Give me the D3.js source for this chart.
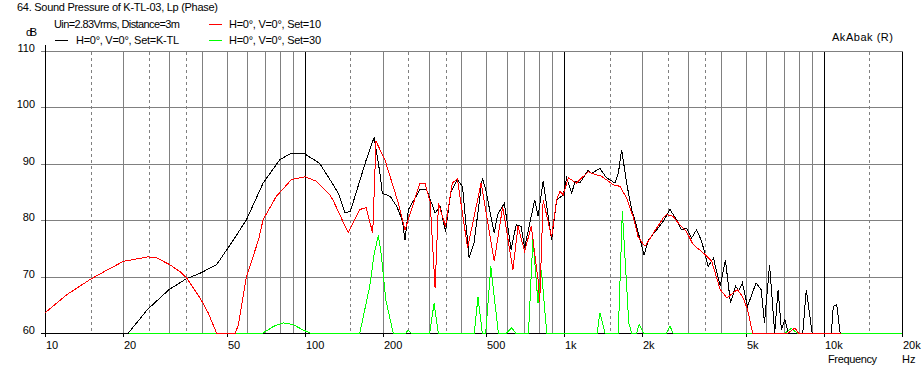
<!DOCTYPE html>
<html>
<head>
<meta charset="utf-8">
<title>Sound Pressure K-TL-03</title>
<style>
  body { margin:0; background:#fff; }
  svg { display:block; }
  text { font-family:"Liberation Sans", Arial, sans-serif; font-size:11px; fill:#000; }
</style>
<script src="https://d3js.org/d3.v7.min.js"></script>
</head>
<body>
<script>
// frequency (Hz) / level (dB)
const ktlFreq = [10, 20.9, 24.8, 30, 34.9, 39.5, 45.7, 53.1, 59.6, 69.1, 80, 88.8, 98.7, 114, 125, 134.6, 142.9, 149.9, 172.5, 185, 195.3, 198.8, 213.5, 226.5, 237.5, 243.3, 250.7, 277.8, 294.9, 317.8, 332.6, 348.5, 364.7, 387.3, 405.3, 429.7, 448.9, 483.4, 498.2, 536.8, 553.3, 587.6, 624.1, 652.6, 682.3, 703, 769.2, 792.6, 829.3, 893.5, 934, 991, 1021, 1068, 1100, 1149, 1236, 1274, 1371, 1455, 1568, 1615, 1664, 1738, 1818, 1901, 2030, 2109, 2270, 2406, 2553, 2709, 2826, 2955, 3091, 3233, 3381, 3588, 3756, 3989, 4177, 4370, 4572, 4700, 4858, 5082, 5483, 5735, 5908, 6182, 6467, 6667, 6868, 7078, 7295, 7750, 7980, 8300, 8560, 9020, 10700, 10880, 11220, 11560, 11700];
const ktlDb   = [60, 60, 64.2, 67.7, 69.6, 70.6, 72.1, 76.5, 80.1, 86.6, 90.7, 91.9, 91.9, 90.1, 87.2, 84.8, 81.3, 81.6, 90.7, 94.7, 88, 84.8, 84.2, 82.4, 80, 76.5, 81.9, 85.4, 85.4, 81.3, 82.4, 78, 84.8, 87.2, 86, 73.3, 76, 87.5, 85.4, 77.7, 81, 83, 74.8, 79.2, 78.9, 75.1, 83.6, 80.7, 86.9, 76.5, 83.6, 84.5, 87.5, 84.8, 86.9, 86.6, 88.9, 88.3, 89.2, 87.5, 86.6, 88.3, 92.5, 86.6, 81.9, 78.9, 73.8, 76.5, 78.3, 79.8, 81.9, 80.1, 78.3, 78.6, 76.8, 78.3, 76.3, 71.8, 73.3, 68.3, 73, 65.3, 68.3, 67.5, 68.9, 64.7, 68.9, 67.7, 61.8, 72.1, 60, 67.7, 60.5, 62.4, 60, 60.9, 60, 60, 67.7, 60, 60, 64.7, 65, 60, 60];

const set10Freq = [10, 12.1, 14.9, 17.2, 20, 24.9, 26.9, 30.2, 33, 35, 39.5, 42.4, 45.7, 54, 55.5, 59.6, 66.3, 69.1, 77.6, 88.8, 100.2, 111, 125, 128.9, 146.9, 162.7, 172.5, 182.7, 188.1, 203.6, 228.4, 243.3, 277.8, 290.6, 304, 317.8, 327.4, 348.5, 370.1, 387.3, 424, 478, 536.8, 579, 633.9, 663, 703, 746, 792, 804, 829, 893.5, 934, 963, 991, 1036, 1115, 1236, 1274, 1392, 1541, 1640, 1738, 1840, 1924, 2017, 2048, 2205, 2406, 2480, 2625, 2750, 2955, 3135, 3430, 3700, 3989, 4237, 4640, 4858, 5082, 5318, 7295, 7750, 7980, 11700];
const set10Db   = [63.6, 66.8, 69.5, 71.1, 72.7, 73.5, 73.3, 72.1, 70.9, 69.8, 66.2, 63.6, 60, 60, 61.5, 70, 76.5, 80.1, 84.2, 87.2, 87.7, 86.9, 84.5, 83.4, 77.8, 81.9, 82.2, 77.7, 94, 90.7, 83.3, 78.3, 86.6, 86.5, 83.3, 68, 83, 78.9, 86.6, 87.3, 75.1, 86.6, 72.7, 82.4, 71.2, 78.9, 74.5, 78.9, 69.5, 65.5, 83.6, 77, 83.6, 85.1, 84.5, 87.5, 86.6, 88.6, 88.3, 87.8, 86.3, 86, 83.9, 80.7, 77.1, 75.7, 75.4, 77.7, 80.4, 81, 80.7, 79.5, 78, 75.7, 74.2, 72.7, 67.7, 66.2, 67.7, 66.5, 64.2, 60, 60, 60.9, 60, 60];

const set30Freq = [20, 69, 76, 82.7, 90, 97, 104.5, 163, 170, 178, 185, 192, 197, 205, 219, 245, 250, 256, 303, 315, 327, 450, 465, 483, 498, 521, 557, 600, 627, 650, 728, 757, 792, 816, 856, 1340, 1371, 1435, 1615, 1674, 1772, 1818, 1901, 1943, 2017, 2480, 2553, 2625, 7100, 7500, 7900, 20000];
const set30Db   = [60, 60, 61.2, 61.8, 61.5, 60.7, 60, 60, 64, 68.3, 74, 77.3, 74, 66, 60, 60, 60.5, 60, 60, 65.3, 60, 60, 66.4, 60, 60, 71.8, 60, 60, 60.9, 60, 60, 76.8, 65.3, 71.2, 60, 60, 63.6, 60, 60, 81.6, 61.8, 60, 60, 61.5, 60, 60, 61.2, 60, 60, 60.8, 60, 60];

const dbTicks = [60, 70, 80, 90, 100, 110];
const freqLabels = [10, 20, 50, 100, 200, 500, 1000, 2000, 5000, 10000, 20000];
const freqLabelText = ['10', '20', '50', '100', '200', '500', '1k', '2k', '5k', '10k', '20k'];

const W = 924, H = 371;
const svg = d3.select('body').append('svg').attr('width', W).attr('height', H);

const x = d3.scaleLog().domain([10, 20000]).range([45.3, 901.9]);
const y = d3.scaleLinear().domain([60, 110]).range([333, 51]);
const px = v => Math.round(x(v)) + 0.5;
const py = v => Math.round(y(v)) + 0.5;

// vertical grid: whole multiples solid, half steps dashed
const gridSolid = [], gridDash = [], gridBlack = [100, 1000, 10000, 20000];
[10, 100, 1000, 10000].forEach(d => {
  [2, 3, 4, 5, 6, 7, 8, 9].forEach(m => { if (d * m <= 20000 && !gridBlack.includes(d * m)) gridSolid.push(d * m); });
  [1.5, 2.5, 3.5].forEach(m => { if (d * m <= 20000) gridDash.push(d * m); });
});

const grid = svg.append('g').attr('shape-rendering', 'crispEdges');
grid.selectAll('.hg').data(dbTicks.filter(d => d > 60)).join('line')
    .attr('x1', 41).attr('x2', 903)
    .attr('y1', py).attr('y2', py)
    .attr('stroke', '#808080');
grid.selectAll('.vs').data(gridSolid).join('line')
    .attr('x1', px).attr('x2', px).attr('y1', py(110)).attr('y2', py(60))
    .attr('stroke', '#808080');
grid.selectAll('.vd').data(gridDash).join('line')
    .attr('x1', px).attr('x2', px).attr('y1', py(110)).attr('y2', py(60))
    .attr('stroke', '#808080').attr('stroke-dasharray', '3,3');
grid.selectAll('.vb').data(gridBlack).join('line')
    .attr('x1', px).attr('x2', px).attr('y1', py(110)).attr('y2', py(60))
    .attr('stroke', '#000');

// axes
grid.append('line').attr('x1', px(10)).attr('x2', px(10)).attr('y1', 45).attr('y2', 337).attr('stroke', '#000');
grid.append('line').attr('x1', 41).attr('x2', 903).attr('y1', py(60)).attr('y2', py(60)).attr('stroke', '#000');
grid.selectAll('.bt').data(freqLabels).join('line')
    .attr('x1', px).attr('x2', px).attr('y1', py(60)).attr('y2', 337)
    .attr('stroke', '#000');

// curves
const clipId = 'plotclip';
svg.append('clipPath').attr('id', clipId).append('rect')
    .attr('x', 45).attr('y', 40).attr('width', 858).attr('height', 294.5);

const line = d3.line().x(d => x(d[0])).y(d => y(Math.max(60, d[1]))).curve(d3.curveLinear);
const series = [
  { f: set30Freq, v: set30Db, c: '#00ff00' },
  { f: ktlFreq, v: ktlDb, c: '#000000' },
  { f: set10Freq, v: set10Db, c: '#ff0000' }
];
svg.append('g').attr('clip-path', `url(#${clipId})`)
  .selectAll('path').data(series).join('path')
    .attr('d', s => line(s.f.map((f, i) => [f, s.v[i]])))
    .attr('fill', 'none').attr('stroke', s => s.c).attr('stroke-width', 1)
    .attr('shape-rendering', 'crispEdges');

// labels
svg.selectAll('.yl').data(dbTicks).join('text')
    .attr('x', 35).attr('y', d => py(d) + 0.5).attr('text-anchor', 'end')
    .text(d => d);
svg.selectAll('.xl').data(freqLabels).join('text')
    .attr('x', d => px(d) + 0.5).attr('y', 349)
    .text((d, i) => freqLabelText[i]);

svg.append('text').attr('x', 17).attr('y', 11).attr('textLength', 201).text('64. Sound Pressure of K-TL-03, Lp (Phase)');
svg.append('text').attr('x', 54).attr('y', 28).attr('textLength', 126).text('Uin=2.83Vrms, Distance=3m');
svg.append('text').attr('x', 26).attr('y', 36).attr('textLength', 11).text('dB');
svg.append('text').attr('x', 832).attr('y', 41).attr('textLength', 61).text('AkAbak (R)');
svg.append('text').attr('x', 828).attr('y', 363).attr('textLength', 49).text('Frequency');
svg.append('text').attr('x', 902).attr('y', 363).text('Hz');

// legend
const legend = [
  { c: '#ff0000', lx: 209, ly: 24.5, tx: 229, ty: 28, w: 92, t: 'H=0°, V=0°, Set=10' },
  { c: '#000000', lx: 55, ly: 40.5, tx: 76, ty: 44, w: 103, t: 'H=0°, V=0°, Set=K-TL' },
  { c: '#00ff00', lx: 209, ly: 40.5, tx: 229, ty: 44, w: 92, t: 'H=0°, V=0°, Set=30' }
];
legend.forEach(l => {
  svg.append('line').attr('x1', l.lx).attr('x2', l.lx + 13).attr('y1', l.ly).attr('y2', l.ly)
     .attr('stroke', l.c).attr('shape-rendering', 'crispEdges');
  svg.append('text').attr('x', l.tx).attr('y', l.ty).attr('textLength', l.w).text(l.t);
});
</script>
</body>
</html>
